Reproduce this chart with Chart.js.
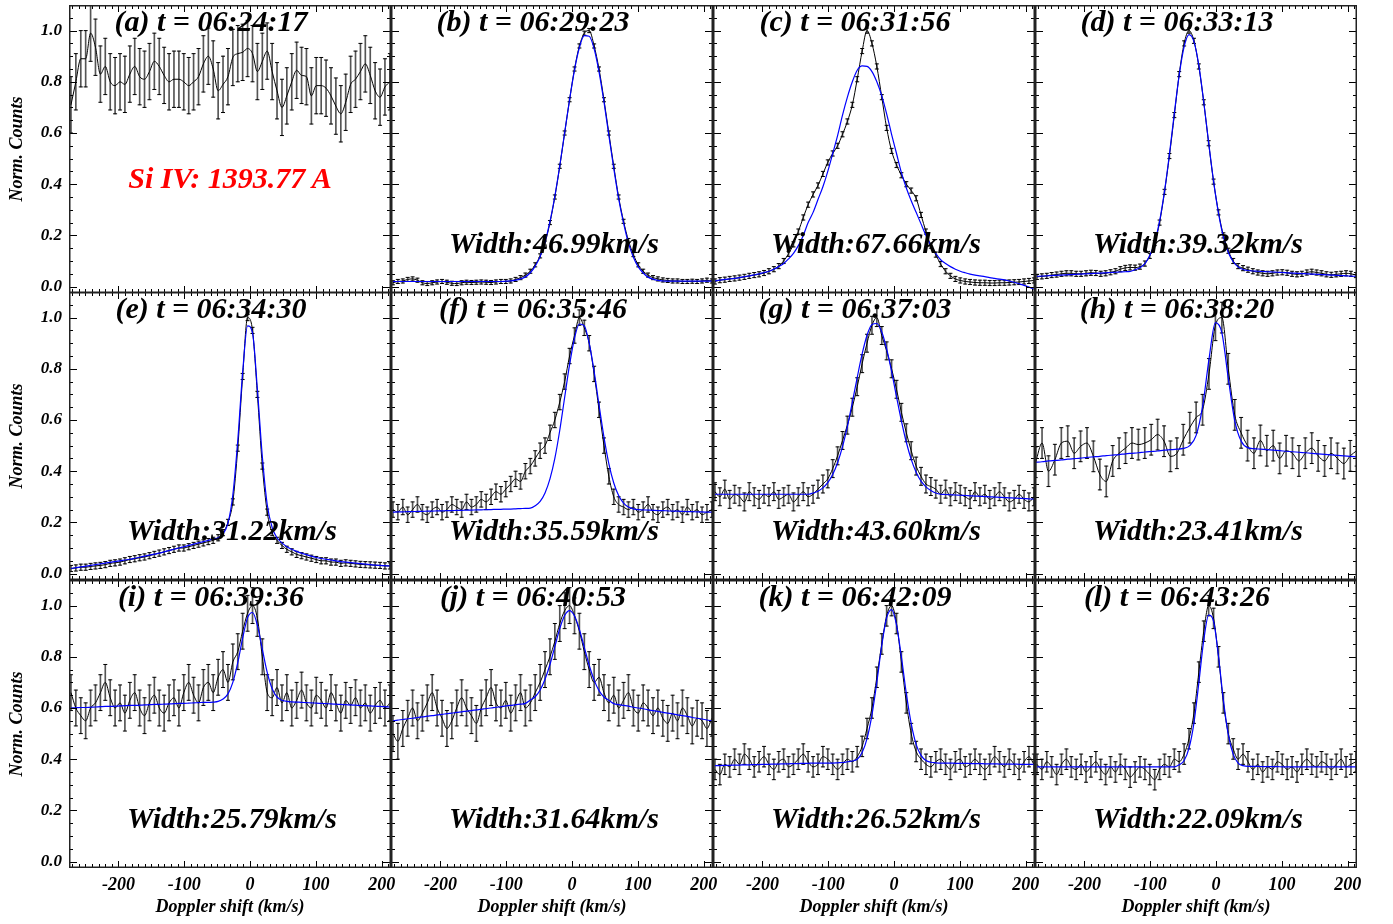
<!DOCTYPE html>
<html>
<head>
<meta charset="utf-8">
<title>Si IV line profiles</title>
<script src="https://cdn.jsdelivr.net/npm/chart.js@4.4.1/dist/chart.umd.min.js"></script>
<style>
  html, body { margin: 0; padding: 0; background: #fff; }
  #wrap { position: relative; width: 1393px; height: 924px; overflow: hidden; background: #fff; }
  #wrap canvas { position: absolute; }
  .txt { position: absolute; white-space: nowrap; transform: translateX(-50%);
         font: italic bold 30px/30px "Liberation Serif", "Times New Roman", serif; color: #000; }
  .txt.red { color: #ff0000; }
</style>
</head>
<body>
<div id="wrap"></div>
<script>
// ---------- data ----------
// Doppler velocity grids (km/s)
const velA = [-272.0, -264.6, -257.1, -249.7, -242.2, -234.8, -227.3, -219.9, -212.4, -205.0,
  -197.5, -190.1, -182.6, -175.2, -167.7, -160.3, -152.8, -145.4, -137.9, -130.5,
  -123.0, -115.6, -108.1, -100.7, -93.2, -85.8, -78.3, -70.9, -63.4, -56.0,
  -48.5, -41.1, -33.6, -26.2, -18.7, -11.3, -3.8, 3.7, 11.1, 18.6,
  26.0, 33.5, 40.9, 48.4, 55.8, 63.3, 70.7, 78.2, 85.6, 93.1,
  100.5, 108.0, 115.4, 122.9, 130.3, 137.8, 145.2, 152.7, 160.1, 167.6,
  175.0, 182.5, 189.9, 197.4, 204.8, 212.3];
const velH = [-274.0, -264.3, -254.5, -244.8, -235.0, -225.3, -215.5, -205.8, -196.0, -186.3,
  -176.5, -166.8, -157.0, -147.3, -137.5, -127.8, -118.0, -108.3, -98.5, -88.8,
  -79.0, -69.3, -59.5, -49.8, -40.0, -30.3, -20.5, -10.8, -1.0, 8.8,
  18.5, 28.3, 38.0, 47.8, 57.5, 67.3, 77.0, 86.8, 96.5, 106.3,
  116.0, 125.8, 135.5, 145.3, 155.0, 164.8, 174.5, 184.3, 194.0, 203.8,
  213.5];

// observed normalized counts
const obsA = [0.71, 0.80, 0.89, 0.89, 0.99, 0.935, 0.83, 0.86, 0.80, 0.785,
  0.80, 0.79, 0.83, 0.86, 0.82, 0.81, 0.84, 0.88, 0.86, 0.825,
  0.80, 0.81, 0.81, 0.80, 0.785, 0.80, 0.82, 0.87, 0.90, 0.85,
  0.765, 0.79, 0.82, 0.895, 0.91, 0.915, 0.93, 0.91, 0.84, 0.88,
  0.92, 0.84, 0.765, 0.70, 0.745, 0.80, 0.845, 0.825, 0.82, 0.745,
  0.785, 0.785, 0.775, 0.745, 0.705, 0.675, 0.72, 0.79, 0.81, 0.84,
  0.87, 0.825, 0.765, 0.74, 0.78, 0.80];
const obsB = [0.015, 0.02, 0.022, 0.028, 0.03, 0.025, 0.015, 0.012, 0.015, 0.018,
  0.02, 0.017, 0.013, 0.012, 0.015, 0.017, 0.016, 0.017, 0.018, 0.017,
  0.016, 0.018, 0.02, 0.02, 0.022, 0.028, 0.035, 0.045, 0.06, 0.085,
  0.12, 0.17, 0.25, 0.35, 0.47, 0.6, 0.73, 0.85, 0.94, 0.99,
  1.0, 0.94, 0.85, 0.73, 0.6, 0.47, 0.35, 0.255, 0.18, 0.125,
  0.085, 0.06, 0.045, 0.035, 0.03, 0.026, 0.024, 0.022, 0.022, 0.02,
  0.02, 0.021, 0.02, 0.022, 0.025, 0.022];
const obsC = [0.02, 0.025, 0.027, 0.03, 0.032, 0.035, 0.038, 0.042, 0.045, 0.048,
  0.053, 0.06, 0.068, 0.08, 0.1, 0.128, 0.165, 0.215, 0.27, 0.32,
  0.36, 0.395, 0.44, 0.485, 0.52, 0.55, 0.595, 0.645, 0.71, 0.81,
  0.92, 1.0, 0.95, 0.86, 0.74, 0.62, 0.53, 0.475, 0.435, 0.40,
  0.375, 0.345, 0.28, 0.215, 0.16, 0.125, 0.088, 0.06, 0.042, 0.03,
  0.024, 0.02, 0.018, 0.016, 0.015, 0.015, 0.014, 0.014, 0.015, 0.015,
  0.016, 0.017, 0.018, 0.02, 0.022, 0.024];
const obsD = [0.038, 0.04, 0.042, 0.045, 0.047, 0.05, 0.052, 0.052, 0.05, 0.05,
  0.052, 0.054, 0.053, 0.05, 0.052, 0.056, 0.06, 0.068, 0.073, 0.075,
  0.074, 0.078, 0.09, 0.12, 0.17, 0.25, 0.37, 0.51, 0.67, 0.83,
  0.95, 1.0, 0.96, 0.86, 0.72, 0.56, 0.41, 0.29, 0.2, 0.14,
  0.1, 0.08, 0.072, 0.066, 0.06, 0.055, 0.052, 0.05, 0.052, 0.055,
  0.056, 0.054, 0.05, 0.048, 0.05, 0.055, 0.058, 0.055, 0.052, 0.048,
  0.046, 0.048, 0.05, 0.052, 0.05, 0.045];
const obsE = [0.02, 0.022, 0.025, 0.025, 0.028, 0.03, 0.032, 0.035, 0.04, 0.042,
  0.045, 0.05, 0.055, 0.058, 0.062, 0.065, 0.07, 0.075, 0.08, 0.085,
  0.09, 0.095, 0.1, 0.1, 0.105, 0.11, 0.115, 0.12, 0.125, 0.13,
  0.14, 0.16, 0.2, 0.28, 0.49, 0.77, 1.0, 0.95, 0.7, 0.42,
  0.24, 0.16, 0.13, 0.11, 0.095, 0.085, 0.075, 0.07, 0.065, 0.06,
  0.055, 0.05, 0.05, 0.045, 0.045, 0.04, 0.042, 0.04, 0.038, 0.036,
  0.035, 0.034, 0.033, 0.032, 0.03, 0.03];
const obsF = [0.25, 0.24, 0.26, 0.23, 0.25, 0.27, 0.24, 0.23, 0.25, 0.26,
  0.24, 0.25, 0.27, 0.26, 0.25, 0.28, 0.26, 0.27, 0.29, 0.28,
  0.3, 0.32, 0.31, 0.33, 0.35, 0.37, 0.36, 0.4, 0.42, 0.45,
  0.48, 0.5, 0.55, 0.6, 0.67, 0.75, 0.85, 0.93, 1.0, 0.96,
  0.9, 0.78, 0.64, 0.5, 0.38, 0.3, 0.27, 0.26, 0.25, 0.26,
  0.24, 0.25, 0.27, 0.24, 0.23, 0.25, 0.26, 0.24, 0.25, 0.23,
  0.26, 0.24, 0.25, 0.23, 0.24, 0.25];
const obsG = [0.32, 0.3, 0.33, 0.29, 0.31, 0.3, 0.28, 0.32, 0.3, 0.29,
  0.31, 0.3, 0.32, 0.29, 0.3, 0.31, 0.28, 0.3, 0.32, 0.3,
  0.31, 0.33, 0.35, 0.37, 0.41, 0.46, 0.52, 0.58, 0.65, 0.73,
  0.82, 0.9, 0.97, 1.0, 0.93, 0.87, 0.8, 0.72, 0.63, 0.55,
  0.48, 0.42, 0.38, 0.35, 0.34, 0.33, 0.31, 0.33, 0.3, 0.32,
  0.31, 0.3, 0.29, 0.32, 0.3, 0.31, 0.29, 0.3, 0.32, 0.3,
  0.28, 0.29, 0.31, 0.29, 0.28, 0.3];
const obsH = [0.435, 0.51, 0.40, 0.445, 0.51, 0.517, 0.47, 0.497, 0.51, 0.458,
  0.387, 0.36, 0.44, 0.47, 0.49, 0.51, 0.504, 0.51, 0.523, 0.543,
  0.517, 0.458, 0.47, 0.523, 0.57, 0.61, 0.64, 0.78, 0.97, 1.0,
  0.8, 0.62, 0.55, 0.5, 0.47, 0.52, 0.48, 0.5, 0.45, 0.48,
  0.47, 0.44, 0.47, 0.49, 0.46, 0.44, 0.47, 0.45, 0.43, 0.46,
  0.48];
const obsI = [0.66, 0.6, 0.57, 0.55, 0.6, 0.62, 0.66, 0.7, 0.64, 0.6,
  0.62, 0.58, 0.63, 0.66, 0.6, 0.57, 0.62, 0.65, 0.6, 0.58,
  0.62, 0.64, 0.6, 0.66, 0.7, 0.65, 0.62, 0.68, 0.7, 0.66,
  0.72, 0.75, 0.7, 0.78, 0.82, 0.9, 0.97, 1.0, 0.95, 0.8,
  0.66, 0.64, 0.68, 0.62, 0.66, 0.6, 0.63, 0.67, 0.62, 0.6,
  0.65, 0.63, 0.6, 0.66, 0.62, 0.58, 0.63, 0.61, 0.64, 0.6,
  0.62, 0.58, 0.61, 0.63, 0.6, 0.62];
const obsJ = [0.5, 0.47, 0.52, 0.56, 0.6, 0.55, 0.58, 0.62, 0.66, 0.6,
  0.56, 0.52, 0.55, 0.6, 0.64, 0.6, 0.57, 0.54, 0.6, 0.64,
  0.68, 0.62, 0.6, 0.63, 0.58, 0.62, 0.66, 0.6, 0.62, 0.66,
  0.7, 0.75, 0.8, 0.86, 0.93, 0.98, 1.0, 0.96, 0.9, 0.82,
  0.75, 0.7, 0.72, 0.66, 0.62, 0.65, 0.6, 0.63, 0.66, 0.6,
  0.58, 0.62, 0.6, 0.57, 0.6, 0.56, 0.54, 0.58, 0.55, 0.6,
  0.57, 0.53, 0.56, 0.55, 0.52, 0.56];
const obsK = [0.36, 0.34, 0.38, 0.37, 0.4, 0.38, 0.42, 0.4, 0.37, 0.39,
  0.41, 0.38, 0.36, 0.39, 0.4, 0.37, 0.38, 0.4, 0.42, 0.39,
  0.37, 0.38, 0.41, 0.4, 0.38, 0.36, 0.38, 0.4, 0.39, 0.41,
  0.45, 0.52, 0.6, 0.72, 0.85, 0.96, 1.0, 0.93, 0.78, 0.62,
  0.5, 0.43, 0.4, 0.38, 0.37, 0.39, 0.4, 0.38, 0.36, 0.39,
  0.4, 0.37, 0.38, 0.4, 0.38, 0.36, 0.38, 0.41, 0.39, 0.37,
  0.4, 0.38, 0.36, 0.39, 0.41, 0.38];
const obsL = [0.38, 0.36, 0.39, 0.37, 0.34, 0.38, 0.4, 0.37, 0.36, 0.38,
  0.35, 0.37, 0.39, 0.36, 0.34, 0.37, 0.35, 0.38, 0.36, 0.33,
  0.35, 0.37, 0.36, 0.34, 0.32, 0.36, 0.38, 0.37, 0.4, 0.39,
  0.42, 0.48, 0.58, 0.74, 0.9, 1.0, 0.95, 0.8, 0.62, 0.5,
  0.44, 0.4, 0.42, 0.39, 0.36, 0.38, 0.35, 0.37, 0.36, 0.39,
  0.38, 0.36, 0.37, 0.35, 0.38, 0.4, 0.38, 0.37, 0.39, 0.38,
  0.36, 0.38, 0.4, 0.37, 0.38, 0.39];

// single-Gaussian fits (blue)
const fitB = [0.02, 0.02, 0.02, 0.02, 0.02, 0.02, 0.02, 0.02, 0.02, 0.02,
  0.02, 0.02, 0.02, 0.02, 0.02, 0.02, 0.02, 0.02, 0.02, 0.02,
  0.02, 0.02, 0.02, 0.021, 0.022, 0.025, 0.03, 0.038, 0.054, 0.08,
  0.117, 0.175, 0.254, 0.353, 0.472, 0.601, 0.731, 0.847, 0.934, 0.98,
  0.978, 0.929, 0.839, 0.722, 0.591, 0.462, 0.344, 0.248, 0.17, 0.115,
  0.077, 0.053, 0.037, 0.029, 0.024, 0.022, 0.021, 0.021, 0.021, 0.021,
  0.021, 0.021, 0.021, 0.021, 0.021, 0.021];
const fitC = [0.022, 0.025, 0.028, 0.03, 0.032, 0.035, 0.039, 0.042, 0.046, 0.05,
  0.055, 0.06, 0.068, 0.078, 0.09, 0.108, 0.13, 0.16, 0.2, 0.25,
  0.29, 0.34, 0.39, 0.45, 0.52, 0.59, 0.67, 0.74, 0.8, 0.845,
  0.862, 0.86, 0.84, 0.8, 0.745, 0.675, 0.595, 0.52, 0.445, 0.385,
  0.335, 0.29, 0.245, 0.2, 0.16, 0.13, 0.105, 0.09, 0.078, 0.068,
  0.06, 0.054, 0.049, 0.045, 0.042, 0.039, 0.035, 0.032, 0.029, 0.026,
  0.022, 0.017, 0.011, 0.005, -0.002, -0.01];
const fitD = [0.04, 0.041, 0.042, 0.043, 0.044, 0.045, 0.046, 0.047, 0.048, 0.049,
  0.05, 0.051, 0.052, 0.053, 0.054, 0.055, 0.056, 0.057, 0.058, 0.059,
  0.066, 0.074, 0.09, 0.121, 0.174, 0.256, 0.373, 0.516, 0.677, 0.826,
  0.937, 0.984, 0.957, 0.864, 0.72, 0.563, 0.411, 0.286, 0.194, 0.133,
  0.097, 0.077, 0.067, 0.063, 0.061, 0.06, 0.059, 0.058, 0.057, 0.056,
  0.055, 0.054, 0.053, 0.052, 0.051, 0.05, 0.049, 0.048, 0.047, 0.046,
  0.045, 0.044, 0.043, 0.042, 0.041, 0.04];
const fitE = [0.02, 0.023, 0.026, 0.029, 0.032, 0.035, 0.038, 0.041, 0.044, 0.047,
  0.05, 0.053, 0.056, 0.06, 0.064, 0.068, 0.072, 0.076, 0.08, 0.085,
  0.09, 0.095, 0.1, 0.105, 0.11, 0.115, 0.12, 0.125, 0.13, 0.135,
  0.14, 0.154, 0.197, 0.307, 0.52, 0.785, 0.968, 0.94, 0.72, 0.457,
  0.27, 0.18, 0.14, 0.12, 0.105, 0.095, 0.087, 0.08, 0.074, 0.068,
  0.063, 0.059, 0.056, 0.053, 0.05, 0.047, 0.045, 0.043, 0.041, 0.039,
  0.037, 0.035, 0.033, 0.032, 0.031, 0.03];
const fitF = [0.24, 0.241, 0.241, 0.242, 0.242, 0.243, 0.243, 0.244, 0.244, 0.245,
  0.245, 0.246, 0.246, 0.247, 0.247, 0.248, 0.248, 0.249, 0.249, 0.25,
  0.25, 0.251, 0.251, 0.252, 0.252, 0.253, 0.254, 0.255, 0.256, 0.265,
  0.282, 0.315, 0.37, 0.45, 0.56, 0.688, 0.816, 0.92, 0.975, 0.968,
  0.9, 0.789, 0.659, 0.533, 0.43, 0.354, 0.305, 0.275, 0.26, 0.253,
  0.25, 0.249, 0.248, 0.247, 0.246, 0.246, 0.245, 0.244, 0.244, 0.243,
  0.242, 0.242, 0.241, 0.241, 0.24, 0.24];
const fitG = [0.31, 0.31, 0.31, 0.31, 0.31, 0.31, 0.31, 0.31, 0.31, 0.31,
  0.31, 0.31, 0.31, 0.31, 0.31, 0.31, 0.31, 0.31, 0.31, 0.31,
  0.315, 0.322, 0.335, 0.355, 0.387, 0.433, 0.496, 0.575, 0.669, 0.766,
  0.858, 0.931, 0.973, 0.977, 0.944, 0.878, 0.79, 0.691, 0.597, 0.513,
  0.446, 0.396, 0.361, 0.339, 0.325, 0.315, 0.31, 0.309, 0.308, 0.307,
  0.306, 0.305, 0.304, 0.303, 0.302, 0.301, 0.3, 0.299, 0.298, 0.297,
  0.296, 0.295, 0.294, 0.293, 0.292, 0.291];
const fitH = [0.435, 0.437, 0.44, 0.442, 0.444, 0.447, 0.449, 0.451, 0.454, 0.456,
  0.458, 0.461, 0.463, 0.465, 0.468, 0.47, 0.472, 0.475, 0.477, 0.479,
  0.482, 0.484, 0.486, 0.489, 0.5, 0.54, 0.652, 0.837, 0.98, 0.94,
  0.763, 0.598, 0.518, 0.492, 0.488, 0.486, 0.484, 0.482, 0.48, 0.478,
  0.476, 0.474, 0.472, 0.47, 0.468, 0.466, 0.464, 0.462, 0.46, 0.458,
  0.456];
const fitI = [0.6, 0.601, 0.602, 0.602, 0.603, 0.604, 0.605, 0.606, 0.606, 0.607,
  0.608, 0.609, 0.61, 0.61, 0.611, 0.612, 0.613, 0.614, 0.614, 0.615,
  0.616, 0.617, 0.618, 0.618, 0.619, 0.62, 0.621, 0.622, 0.622, 0.623,
  0.626, 0.635, 0.655, 0.7, 0.777, 0.873, 0.953, 0.973, 0.923, 0.829,
  0.739, 0.675, 0.643, 0.63, 0.626, 0.624, 0.623, 0.622, 0.621, 0.62,
  0.619, 0.618, 0.617, 0.616, 0.615, 0.614, 0.613, 0.612, 0.611, 0.61,
  0.609, 0.608, 0.607, 0.606, 0.605, 0.604];
const fitJ = [0.55, 0.553, 0.555, 0.558, 0.56, 0.563, 0.565, 0.568, 0.57, 0.573,
  0.575, 0.578, 0.58, 0.583, 0.585, 0.588, 0.59, 0.593, 0.595, 0.598,
  0.6, 0.603, 0.605, 0.608, 0.61, 0.613, 0.615, 0.618, 0.631, 0.644,
  0.67, 0.712, 0.77, 0.84, 0.91, 0.961, 0.98, 0.959, 0.907, 0.836,
  0.767, 0.709, 0.668, 0.643, 0.63, 0.617, 0.613, 0.61, 0.607, 0.603,
  0.6, 0.597, 0.593, 0.59, 0.587, 0.583, 0.58, 0.577, 0.573, 0.57,
  0.567, 0.563, 0.56, 0.557, 0.553, 0.55];
const fitK = [0.375, 0.375, 0.376, 0.376, 0.377, 0.377, 0.378, 0.378, 0.379, 0.379,
  0.38, 0.38, 0.381, 0.381, 0.382, 0.382, 0.383, 0.383, 0.384, 0.384,
  0.385, 0.385, 0.385, 0.385, 0.385, 0.386, 0.387, 0.39, 0.393, 0.4,
  0.426, 0.48, 0.573, 0.701, 0.845, 0.952, 0.984, 0.924, 0.8, 0.656,
  0.539, 0.458, 0.415, 0.395, 0.388, 0.386, 0.385, 0.385, 0.385, 0.384,
  0.384, 0.384, 0.383, 0.383, 0.383, 0.382, 0.382, 0.382, 0.381, 0.381,
  0.381, 0.381, 0.38, 0.38, 0.38, 0.38];
const fitL = [0.37, 0.37, 0.37, 0.37, 0.37, 0.37, 0.37, 0.37, 0.37, 0.37,
  0.37, 0.37, 0.37, 0.37, 0.37, 0.37, 0.37, 0.37, 0.37, 0.37,
  0.37, 0.37, 0.37, 0.37, 0.37, 0.37, 0.37, 0.37, 0.37, 0.378,
  0.395, 0.443, 0.542, 0.698, 0.865, 0.963, 0.938, 0.801, 0.631, 0.495,
  0.419, 0.385, 0.375, 0.372, 0.372, 0.372, 0.371, 0.371, 0.371, 0.371,
  0.37, 0.37, 0.37, 0.37, 0.37, 0.37, 0.37, 0.37, 0.37, 0.37,
  0.37, 0.37, 0.37, 0.37, 0.37, 0.37];

// 1-sigma error bar half-lengths, one per panel
const errSizes = [0.11, 0.008, 0.01, 0.01, 0.012, 0.03, 0.035, 0.06, 0.07, 0.07, 0.04, 0.04];

const panelLetters = ['a', 'b', 'c', 'd', 'e', 'f', 'g', 'h', 'i', 'j', 'k', 'l'];
const panelTimes = ['06:24:17', '06:29:23', '06:31:56', '06:33:13', '06:34:30', '06:35:46',
  '06:37:03', '06:38:20', '06:39:36', '06:40:53', '06:42:09', '06:43:26'];
const widthLabels = [null, '46.99', '67.66', '39.32', '31.22', '35.59', '43.60', '23.41',
  '25.79', '31.64', '26.52', '22.09'];
const xTickLabels = [-200, -100, 0, 100, 200];
const yTickLabels = [0, 0.2, 0.4, 0.6, 0.8, 1.0];
const lineName = 'Si IV: 1393.77 A';

const vels = [velA, velA, velA, velA, velA, velA, velA, velH, velA, velA, velA, velA];
const obsAll = [obsA, obsB, obsC, obsD, obsE, obsF, obsG, obsH, obsI, obsJ, obsK, obsL];
const fitAll = [null, fitB, fitC, fitD, fitE, fitF, fitG, fitH, fitI, fitJ, fitK, fitL];

// ---------- layout ----------
const colLeft = [69, 391, 713, 1035];
const rowTop = [5, 292, 580];
const PW = 322, PH = 288;
const X_MIN = -275, X_MAX = 214, Y_MIN = -0.025, Y_MAX = 1.1;
const FONT = "'Liberation Serif', 'Times New Roman', serif";
const wrap = document.getElementById('wrap');

// IDL-style frame with inward ticks on all four sides
const frameTicks = {
  id: 'frameTicks',
  afterDatasetsDraw(chart) {
    const { ctx, chartArea: a, scales: { x, y } } = chart;
    ctx.save();
    ctx.strokeStyle = '#000';
    ctx.lineWidth = 1;
    ctx.beginPath();
    for (let v = -270; v <= 210; v += 10) {
      const px = Math.round(x.getPixelForValue(v)) + 0.5;
      const len = v % 100 === 0 ? 7 : 4;
      ctx.moveTo(px, a.bottom); ctx.lineTo(px, a.bottom - len);
      ctx.moveTo(px, a.top); ctx.lineTo(px, a.top + len);
    }
    for (let k = 0; k < 22; k++) {
      const py = Math.round(y.getPixelForValue(k * 0.05)) + 0.5;
      const len = k % 4 === 0 ? 8 : 4;
      ctx.moveTo(a.left, py); ctx.lineTo(a.left + len, py);
      ctx.moveTo(a.right, py); ctx.lineTo(a.right - len, py);
    }
    ctx.stroke();
    ctx.strokeStyle = '#222';
    ctx.lineWidth = 1.5;
    ctx.strokeRect(a.left + 0.75, a.top + 0.75, a.right - a.left - 1.5, a.bottom - a.top - 1.5);
    ctx.restore();
  }
};

function makePanel(i) {
  const row = Math.floor(i / 4), col = i % 4;
  const padL = col === 0 ? colLeft[0] : 0;
  const padB = row === 2 ? 56 : 0;
  const padR = row === 2 ? 20 : 0;
  const w = PW + padL + padR, h = PH + padB;
  const cv = document.createElement('canvas');
  cv.width = w; cv.height = h;
  cv.style.left = (colLeft[col] - padL) + 'px';
  cv.style.top = rowTop[row] + 'px';
  cv.style.width = w + 'px';
  cv.style.height = h + 'px';
  wrap.appendChild(cv);

  const vel = vels[i], obs = obsAll[i], fit = fitAll[i], err = errSizes[i];
  const bars = vel.map((v, k) => ({ x: v, y: [obs[k] - err, obs[k] + err] }));
  const caps = vel.flatMap((v, k) => [{ x: v, y: obs[k] - err }, { x: v, y: obs[k] + err }]);
  const datasets = [
    { type: 'bar', data: bars, barThickness: 1, backgroundColor: '#555', grouped: false, order: 3 },
    { type: 'line', data: caps, showLine: false, pointStyle: 'line', pointRadius: 2,
      pointBorderColor: '#000', pointBorderWidth: 1, order: 2 },
    { type: 'line', data: vel.map((v, k) => ({ x: v, y: obs[k] })), borderColor: '#000',
      borderWidth: 1, pointRadius: 0, cubicInterpolationMode: 'monotone', order: 1 }
  ];
  if (fit) {
    datasets.push({ type: 'line', data: vel.map((v, k) => ({ x: v, y: fit[k] })), borderColor: '#0000ff',
      borderWidth: 1.2, pointRadius: 0, cubicInterpolationMode: 'monotone', order: 0 });
  }

  new Chart(cv, {
    type: 'line',
    data: { datasets },
    options: {
      responsive: false,
      animation: false,
      events: [],
      layout: { autoPadding: false, padding: { left: 0, right: padR, top: 0, bottom: 0 } },
      plugins: { legend: { display: false }, tooltip: { enabled: false } },
      scales: {
        x: {
          type: 'linear', min: X_MIN, max: X_MAX, offset: false, display: row === 2,
          grid: { display: false, drawTicks: false }, border: { display: false },
          afterBuildTicks: s => { s.ticks = xTickLabels.map(v => ({ value: v })); },
          afterFit: s => { s.height = padB; s.paddingLeft = 0; s.paddingRight = 0; },
          ticks: { color: '#000', padding: 7, maxRotation: 0, autoSkip: false,
                   font: { family: FONT, size: 18, style: 'italic', weight: 'bold' },
                   callback: v => String(v) },
          title: { display: true, text: 'Doppler shift (km/s)', color: '#000',
                   padding: { top: 0, bottom: 6 },
                   font: { family: FONT, size: 18, style: 'italic', weight: 'bold' } }
        },
        y: {
          min: Y_MIN, max: Y_MAX, display: col === 0,
          grid: { display: false, drawTicks: false }, border: { display: false },
          afterBuildTicks: s => { s.ticks = yTickLabels.map(v => ({ value: v })); },
          afterFit: s => { s.width = padL; s.paddingTop = 0; s.paddingBottom = 0; },
          ticks: { color: '#000', padding: 7,
                   font: { family: FONT, size: 17, style: 'italic', weight: 'bold' },
                   callback: v => v.toFixed(1) },
          title: { display: true, text: 'Norm. Counts', color: '#000',
                   padding: { top: 7, bottom: 0 },
                   font: { family: FONT, size: 18, style: 'italic', weight: 'bold' } }
        }
      }
    },
    plugins: [frameTicks]
  });

  // panel title and fitted width
  const cx = colLeft[col] + PW / 2;
  const t = document.createElement('div');
  t.className = 'txt';
  t.textContent = '(' + panelLetters[i] + ') t = ' + panelTimes[i];
  t.style.left = (cx - 19) + 'px';
  t.style.top = (rowTop[row] + 1) + 'px';
  wrap.appendChild(t);
  if (widthLabels[i]) {
    const wl = document.createElement('div');
    wl.className = 'txt';
    wl.textContent = 'Width:' + widthLabels[i] + 'km/s';
    wl.style.left = (cx + 2) + 'px';
    wl.style.top = (rowTop[row] + 223) + 'px';
    wrap.appendChild(wl);
  }
}

for (let i = 0; i < 12; i++) makePanel(i);

const ln = document.createElement('div');
ln.className = 'txt red';
ln.textContent = lineName;
ln.style.left = (colLeft[0] + PW / 2) + 'px';
ln.style.top = '163px';
wrap.appendChild(ln);
</script>
</body>
</html>
